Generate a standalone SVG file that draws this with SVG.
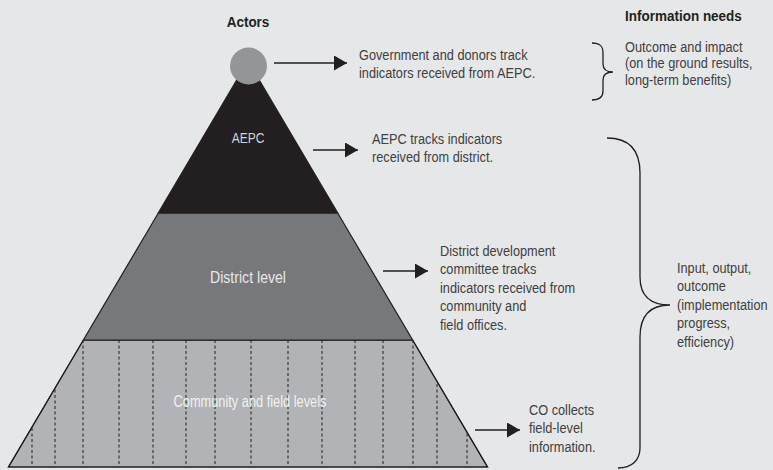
<svg xmlns="http://www.w3.org/2000/svg" width="773" height="470" viewBox="0 0 773 470">
<style>
.t{font-family:"Liberation Sans",Arial,sans-serif;font-size:15px;fill:#414042}
.h{font-family:"Liberation Sans",Arial,sans-serif;font-weight:bold;fill:#231f20;font-size:15px}
.lbl{font-family:"Liberation Sans",Arial,sans-serif;text-anchor:middle}
.tier{stroke:#231f20;stroke-width:1.2}
.dash{stroke:#231f20;stroke-width:1;stroke-dasharray:3 2.5}
.arr{stroke:#231f20;stroke-width:1.5;fill:none}
.brace{stroke:#231f20;stroke-width:1.3;fill:none}
</style>
<defs>
<marker id="ah" markerUnits="userSpaceOnUse" markerWidth="14" markerHeight="16" refX="13" refY="7.5" orient="auto">
<path d="M0,0 L13,7.5 L0,15 z" fill="#231f20"/>
</marker>
<clipPath id="comm"><polygon points="83.4,340 412.6,340 487.5,467 8.5,467"/></clipPath>
</defs>
<rect width="773" height="470" fill="#e6e7e8"/>

<g transform="translate(248 0) scale(0.9 1)"><text class="h" x="0" y="27" text-anchor="middle">Actors</text></g>
<g transform="translate(625 0) scale(0.9 1)"><text class="h" x="0" y="21">Information needs</text></g>

<g id="community">
<polygon class="tier" points="83.4,340 412.6,340 487.5,467 8.5,467" fill="#b1b3b6"/>
<g clip-path="url(#comm)">
<path class="dash" d="M32,340V467M55,340V467M83,340V467M119,340V467M153,340V467M186,340V467M215,340V467M251,340V467M288,340V467M322,340V467M355,340V467M383,340V467M413,340V467M437,340V467M467,340V467"/>
</g>
<polygon points="83.4,340 412.6,340 487.5,467 8.5,467" fill="none" stroke="#231f20" stroke-width="1.2"/>
<g transform="translate(250 0) scale(0.8 1)"><text class="lbl" x="0" y="407" font-size="16" fill="#f1f2f2">Community and field levels</text></g>
</g>

<g id="district">
<polygon class="tier" points="158.3,213 337.7,213 412.6,340 83.4,340" fill="#77787b"/>
<g transform="translate(248 0) scale(0.83 1)"><text class="lbl" x="0" y="283" font-size="17" fill="#e6e7e8">District level</text></g>
</g>

<g id="aepc">
<polygon class="tier" points="248,61 337.7,213 158.3,213" fill="#231f20"/>
<g transform="translate(248 0) scale(0.8 1)"><text class="lbl" x="0" y="143" font-size="15" fill="#d1d3d4">AEPC</text></g>
</g>

<g id="top">
<circle cx="248.5" cy="66" r="18.5" fill="#939598"/>
</g>

<g id="connectors">
<line class="arr" x1="274" y1="63" x2="347" y2="63" marker-end="url(#ah)"/>
<line class="arr" x1="313" y1="150" x2="358" y2="150" marker-end="url(#ah)"/>
<line class="arr" x1="383" y1="271" x2="428" y2="271" marker-end="url(#ah)"/>
<line class="arr" x1="475" y1="430" x2="520" y2="430" marker-end="url(#ah)"/>
</g>

<g id="text-gov" transform="translate(359 0) scale(0.85 1)">
<text class="t" x="0" y="60">Government and donors track</text>
<text class="t" x="0" y="78.5">indicators received from AEPC.</text>
</g>
<g id="text-aepc" transform="translate(372 0) scale(0.85 1)">
<text class="t" x="0" y="144">AEPC tracks indicators</text>
<text class="t" x="0" y="162">received from district.</text>
</g>
<g id="text-district" transform="translate(440 0) scale(0.85 1)">
<text class="t" x="0" y="256">District development</text>
<text class="t" x="0" y="274.5">committee tracks</text>
<text class="t" x="0" y="293">indicators received from</text>
<text class="t" x="0" y="311.5">community and</text>
<text class="t" x="0" y="330">field offices.</text>
</g>
<g id="text-co" transform="translate(529 0) scale(0.85 1)">
<text class="t" x="0" y="415">CO collects</text>
<text class="t" x="0" y="433.5">field-level</text>
<text class="t" x="0" y="452">information.</text>
</g>

<g id="need-outcome">
<path class="brace" d="M592,43 C600,43 603,46 603,53 L603,64 C603,69 606,72 613,72 C606,72 603,75 603,80 L603,91 C603,97 600,100 592,100"/>
<g transform="translate(625 0) scale(0.85 1)">
<text class="t" x="0" y="52">Outcome and impact</text>
<text class="t" x="0" y="68.5">(on the ground results,</text>
<text class="t" x="0" y="85">long-term benefits)</text>
</g>
</g>

<g id="need-input">
<path class="brace" d="M607,138 C630,138 640,150 640,173 L640,277 C640,296 650,305 670,305 C650,305 640,315 640,337 L640,448 C640,460 632,468 618,468"/>
<g transform="translate(677 0) scale(0.85 1)">
<text class="t" x="0" y="273">Input, output,</text>
<text class="t" x="0" y="291.5">outcome</text>
<text class="t" x="0" y="310">(implementation</text>
<text class="t" x="0" y="328.5">progress,</text>
<text class="t" x="0" y="347">efficiency)</text>
</g>
</g>
</svg>
